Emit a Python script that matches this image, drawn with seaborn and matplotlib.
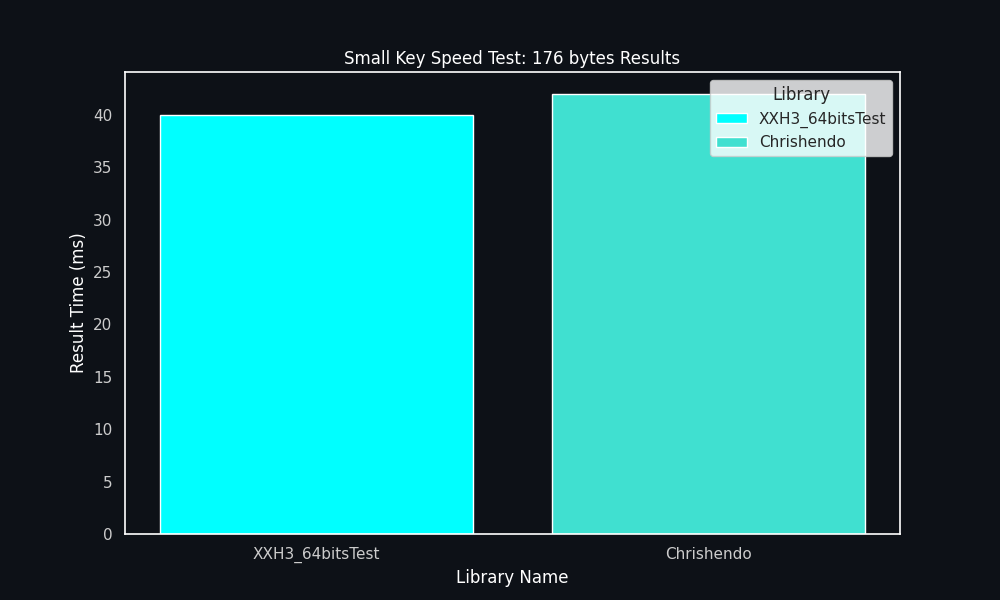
import pandas as pd
import seaborn as sns
import matplotlib
matplotlib.use('Agg')
import matplotlib.pyplot as plt

libraries = ['XXH3_64bitsTest', 'Chrishendo']
result_ms = [40, 42]
bar_colors = ['#00FFFF', '#40E0D0']

df = pd.DataFrame({'Library': libraries, 'Result Time (ms)': result_ms})

bg = '#0d1117'
sns.set_style("dark", {
    'axes.facecolor': bg,
    'figure.facecolor': bg,
    'axes.edgecolor': 'white',
    'text.color': 'white',
    'axes.labelcolor': 'white',
    'xtick.color': '#cccccc',
    'ytick.color': '#cccccc',
})

fig, ax = plt.subplots(figsize=(10, 6), dpi=100)
sns.barplot(x='Library', y='Result Time (ms)', hue='Library', data=df,
            palette=dict(zip(libraries, bar_colors)), edgecolor='white',
            dodge=False, saturation=1, legend=False, ax=ax)

# matplotlib-style margins instead of seaborn's categorical limits
ax.set_xlim(-0.49, len(libraries) - 1 + 0.49)

for spine in ax.spines.values():
    spine.set_color('white')
    spine.set_linewidth(1.2)

ax.tick_params(axis='x', labelsize=11, length=0, pad=9.5)
ax.tick_params(axis='y', labelsize=11, length=0, pad=9)
ax.set_title('Small Key Speed Test: 176 bytes Results', fontsize=12, color='white')
ax.set_xlabel('Library Name', fontsize=12, color='white')
ax.set_ylabel('Result Time (ms)', fontsize=12, color='white')

handles = [plt.Rectangle((0, 0), 1, 1, facecolor=c, edgecolor='white') for c in bar_colors]
leg = ax.legend(handles, libraries, title='Library', loc='upper right', fontsize=11,
                title_fontsize=12, facecolor='white', framealpha=0.8, edgecolor='#cccccc')
for t in leg.get_texts():
    t.set_color('#262626')
leg.get_title().set_color('#262626')

plt.savefig('out.png', facecolor=bg)
